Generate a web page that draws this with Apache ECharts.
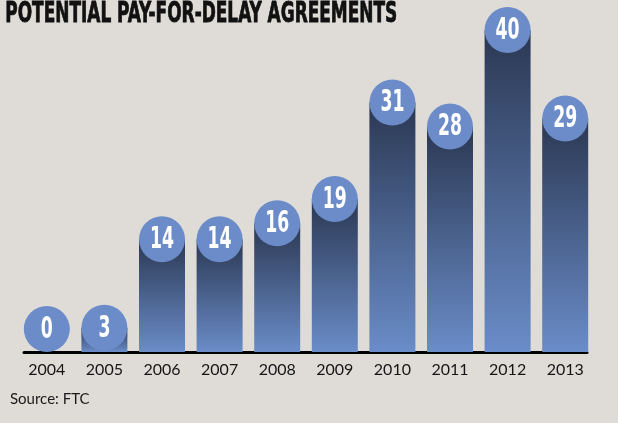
<!DOCTYPE html>
<html>
<head>
<meta charset="utf-8">
<script src="https://cdn.jsdelivr.net/npm/echarts@6/dist/echarts.min.js"></script>
<style>
  html, body { margin: 0; padding: 0; background: #dfdcd7; }
  #chart { width: 618px; height: 423px; }
</style>
</head>
<body>
<div id="chart"></div>
<script>
// Yearly counts of potential pay-for-delay agreements
const years = ['2004', '2005', '2006', '2007', '2008', '2009', '2010', '2011', '2012', '2013'];
const agreements = [0, 3, 14, 14, 16, 19, 31, 28, 40, 29];
const titleText = 'POTENTIAL PAY-FOR-DELAY AGREEMENTS';
const sourceText = 'Source: FTC';

const NARROW = '"DejaVu Sans Condensed", "DejaVu Sans", sans-serif';
const BUBBLE_R = 23;

// squeeze the headline into a condensed look
function squeeze(text, font, targetWidth) {
  const ctx = document.createElement('canvas').getContext('2d');
  ctx.font = font;
  return targetWidth / ctx.measureText(text).width;
}
const titleFont = 'bold 29px ' + NARROW;
const titleScale = Math.min(1, squeeze(titleText, titleFont, 392));

const chart = echarts.init(document.getElementById('chart'), null, { renderer: 'canvas' });

// value bubble: circle centred on the bar top, never dipping below the baseline
function renderBubble(params, api) {
  const idx = api.value(0);
  const v = api.value(1);
  const p = api.coord([idx, v]);
  const base = api.coord([idx, 0])[1];
  const cy = Math.min(p[1], base - BUBBLE_R);
  return {
    type: 'group',
    children: [
      {
        type: 'circle',
        shape: { cx: p[0], cy: cy, r: BUBBLE_R },
        style: { fill: '#6b8cc8' }
      },
      {
        type: 'text',
        x: p[0], y: cy + 1, scaleX: 0.64,
        style: {
          text: String(v), fill: '#fff',
          font: 'bold 30px ' + NARROW,
          align: 'center', verticalAlign: 'middle'
        }
      }
    ]
  };
}

const option = {
  backgroundColor: '#dfdcd7',
  animation: false,
  grid: [
    { left: 18, right: 24, top: 30, bottom: 71 },
    { left: 24, right: 31, top: 30, bottom: 71 }
  ],
  xAxis: [
    {
      type: 'category', gridIndex: 0, data: years,
      axisLine: { show: false }, axisTick: { show: false },
      axisLabel: { color: '#151515', fontSize: 16, fontFamily: 'Lato', margin: 10 }
    },
    {
      type: 'category', gridIndex: 1, data: years,
      axisLine: { show: true, lineStyle: { color: '#000', width: 3 } },
      axisTick: { show: false }, axisLabel: { show: false }
    }
  ],
  yAxis: [
    { type: 'value', gridIndex: 0, min: 0, max: 40, show: false },
    { type: 'value', gridIndex: 1, min: 0, max: 40, show: false }
  ],
  series: [
    {
      type: 'bar', xAxisIndex: 0, yAxisIndex: 0,
      data: agreements, barWidth: 46, z: 2,
      itemStyle: {
        color: new echarts.graphic.LinearGradient(0, 0, 0, 1, [
          { offset: 0, color: '#2b3853' },
          { offset: 1, color: '#6a8cc8' }
        ])
      }
    },
    {
      type: 'custom', xAxisIndex: 0, yAxisIndex: 0, z: 3, clip: false,
      data: agreements.map((v, i) => [i, v]),
      renderItem: renderBubble
    }
  ],
  graphic: [
    {
      type: 'text', left: 5, top: 0, scaleX: titleScale, originX: 0,
      style: { text: titleText, font: titleFont, fill: '#111', stroke: '#111', lineWidth: 0.8 }
    },
    {
      type: 'text', left: 10, top: 392,
      style: { text: sourceText, font: '15px Lato', fill: '#1a1a1a' }
    }
  ]
};

chart.setOption(option);
</script>
</body>
</html>
